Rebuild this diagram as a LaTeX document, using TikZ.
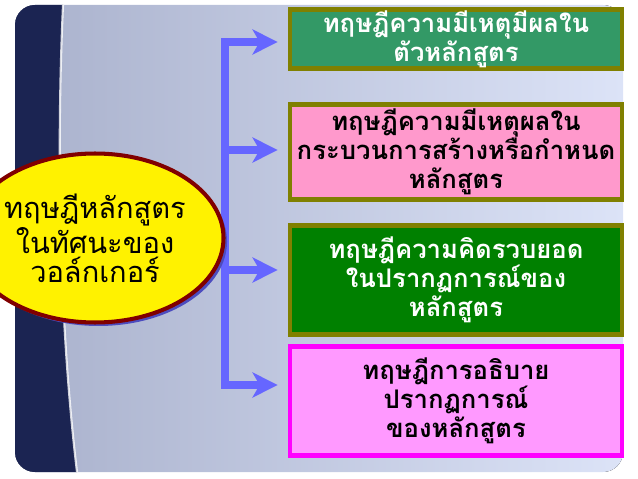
\documentclass[tikz,border=0pt]{standalone}
\usepackage{fontspec}
\newfontfamily\thaifont[Script=Thai]{Loma}
\usetikzlibrary{arrows.meta,shapes.geometric,shadows}

\definecolor{barblue}{HTML}{6666FF}
\definecolor{olivebd}{HTML}{808000}
\definecolor{greenA}{HTML}{339966}
\definecolor{greenB}{HTML}{008000}
\definecolor{pinkA}{HTML}{FF99CC}
\definecolor{pinkB}{HTML}{FF99FF}
\definecolor{magbd}{HTML}{FF00FF}
\definecolor{maroonbd}{HTML}{800000}
\definecolor{navy}{HTML}{1B2452}
\definecolor{bgL}{HTML}{A9B1CC}
\definecolor{bgR}{HTML}{DCE3F7}

\begin{document}
\begin{tikzpicture}[x=0.02cm,y=-0.02cm,
  box/.style={rectangle,draw=olivebd,line width=2.8pt,minimum width=6.64cm,
    align=center,inner sep=0pt,font=\thaifont\bfseries\fontsize{14.6}{16.5}\selectfont},
  link/.style={draw=barblue,line width=4.5pt},
  tip/.style={-{Stealth[length=0.5cm,width=0.5cm,inset=0.14cm]},shorten >=0.2cm}]

\useasboundingbox (0,0) rectangle (638,479);

% slide background
\begin{scope}
\clip[rounded corners=0.4cm] (15,5) rectangle (623,472);
\fill[left color=bgL,right color=bgR] (15,5) rectangle (623,472);
\fill[navy] (15,5) -- (63,5) .. controls (56,160) and (60,330) .. (77,472) -- (15,472) -- cycle;
\draw[white,line width=1.2pt,opacity=.8] (63,5) .. controls (56,160) and (60,330) .. (77,472);
\end{scope}

% boxes
\node[box,fill=greenA,text=white,minimum height=1.18cm,font=\thaifont\bfseries\fontsize{14.6}{13}\selectfont] (1) at (456,39)
  {ทฤษฎีความมีเหตุมีผลใน\\ตัวหลักสูตร};
\node[box,fill=pinkA,minimum height=1.9cm] (2) at (456,152)
  {ทฤษฎีความมีเหตุผลใน\\กระบวนการสร้างหรือกำหนด\\หลักสูตร};
\node[box,fill=greenB,text=white,minimum height=2.18cm] (3) at (456,280)
  {ทฤษฎีความคิดรวบยอด\\ในปรากฏการณ์ของ\\หลักสูตร};
\node[box,draw=magbd,fill=pinkB,minimum height=2.18cm] (4) at (456,401)
  {ทฤษฎีการอธิบาย\\ปรากฏการณ์\\ของหลักสูตร};

% connectors
\coordinate (t1) at (225,42);
\coordinate (t2) at (225,150);
\coordinate (t3) at (225,270);
\coordinate (t4) at (225,385);
\draw[link,line cap=rect] (t1) -- (t4);
\draw[link] (100,237) -- (t1 |- 0,237);
\draw[link,tip] (t1) -- (1.west |- t1);
\draw[link,tip] (t2) -- (2.west |- t2);
\draw[link,tip] (t3) -- (3.west |- t3);
\draw[link,tip] (t4) -- (4.west |- t4);

% centre
\node[ellipse,draw=maroonbd,line width=2.3pt,fill=yellow,minimum width=3.6cm,minimum height=3.38cm,
  inner sep=0pt,align=center,font=\thaifont\fontsize{16.5}{16.5}\selectfont,
  drop shadow={shadow xshift=0.07cm,shadow yshift=-0.07cm,fill=barblue!75!black,opacity=1}] (c) at (95,238)
  {ทฤษฎีหลักสูตร\\ในทัศนะของ\\วอล์กเกอร์};

\end{tikzpicture}
\end{document}
